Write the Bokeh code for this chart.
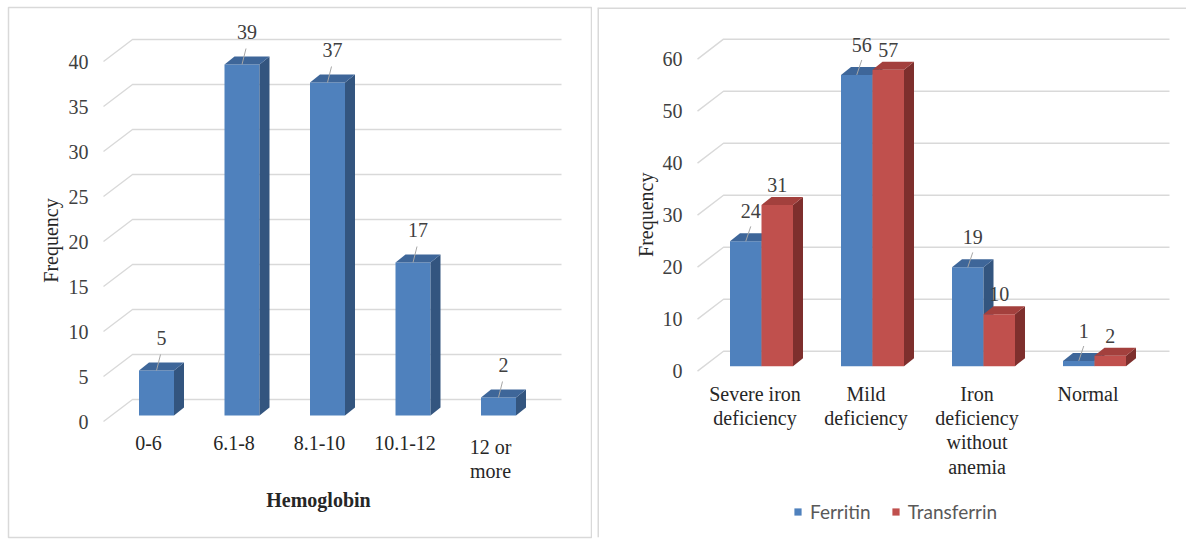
import math

from bokeh.core.properties import value
from bokeh.embed import file_html
from bokeh.layouts import row
from bokeh.models import FixedTicker, Legend, LegendItem, LinearAxis, Range1d
from bokeh.plotting import figure
from bokeh.resources import INLINE

# ---------------------------------------------------------------- data
hb_groups = ["0-6", "6.1-8", "8.1-10", "10.1-12", "12 or\nmore"]
hb_freq = [5, 39, 37, 17, 2]
hb_ticks = [0, 5, 10, 15, 20, 25, 30, 35, 40]

iron_groups = ["Severe iron\ndeficiency", "Mild\ndeficiency",
               "Iron\ndeficiency\nwithout\nanemia", "Normal"]
ferritin = [24, 56, 19, 1]
transferrin = [31, 57, 10, 2]
iron_ticks = [0, 10, 20, 30, 40, 50, 60]

# ---------------------------------------------------------------- style
SERIF = "Liberation Serif"
SANS = "Lato"
FS = "20px"
TXT = "#404040"
GRID = "#d9d9d9"
LEADER = "#a6a6a6"
BLUE = {"front": "#4F81BD", "top": "#3E6699", "side": "#33557F"}
RED = {"front": "#C0504D", "top": "#A3403D", "side": "#7E2F2D"}


class Panel:
    """A figure whose frame is one chart panel, with helpers that turn
    pixel offsets (3-D depth, label gaps) into data offsets."""

    def __init__(self, frame_w, frame_h, borders, cat0_px, step_px, zero_px, unit_px):
        left, top, right, bottom = borders
        self.step_px = step_px
        self.unit_px = unit_px
        self.p = figure(
            width=frame_w + left + right, height=frame_h + top + bottom,
            x_range=Range1d(-cat0_px / step_px, (frame_w - cat0_px) / step_px),
            y_range=Range1d((zero_px - frame_h) / unit_px, zero_px / unit_px),
            x_axis_type=None, y_axis_type=None,
            output_backend="svg", toolbar_location=None, tools="",
            min_border_left=left, min_border_top=top,
            min_border_right=right, min_border_bottom=bottom,
            background_fill_color="white", border_fill_color="white",
        )
        self.p.outline_line_color = None

    def dx(self, px):
        return px / self.step_px

    def dy(self, px):
        return px / self.unit_px

    def walls(self, ticks, front_px, end_px, depth):
        """Gridlines: a diagonal on the side wall and a line on the back wall."""
        ddx, ddy = self.dx(depth[0]), self.dy(depth[1])
        gx = self.dx(front_px)
        xs = [[gx, gx + ddx, self.dx(end_px)] for _ in ticks]
        ys = [[t, t + ddy, t + ddy] for t in ticks]
        self.p.multi_line(xs, ys, line_color=GRID, line_width=1.4)
        axis = LinearAxis(
            ticker=FixedTicker(ticks=ticks), fixed_location=gx,
            axis_line_color=None, major_tick_line_color=None,
            minor_tick_line_color=None, major_tick_in=0, major_tick_out=0,
            major_label_standoff=15,
            major_label_text_font=SERIF, major_label_text_font_size=FS,
            major_label_text_color=TXT,
        )
        self.p.add_layout(axis, "left")

    def bars(self, centers, vals, lift, half_w, side, colors):
        """3-D columns: front face, right side and top face."""
        l = [c - self.dx(half_w) for c in centers]
        r = [c + self.dx(half_w) for c in centers]
        b = [self.dy(lift)] * len(vals)
        t = [v + self.dy(lift) for v in vals]
        sx, sy = self.dx(side[0]), self.dy(side[1])
        front = self.p.quad(left=l, right=r, bottom=b, top=t,
                            fill_color=colors["front"], line_color=None)
        self.p.patches(
            [[ri, ri + sx, ri + sx, ri] for ri in r],
            [[bi, bi + sy, ti + sy, ti] for bi, ti in zip(b, t)],
            fill_color=colors["side"], line_color=None)
        self.p.patches(
            [[li, ri, ri + sx, li + sx] for li, ri in zip(l, r)],
            [[ti, ti, ti + sy, ti + sy] for ti in t],
            fill_color=colors["top"], line_color=None)
        return front, t

    def values(self, centers, tops, vals, gap, shift, leader=None):
        xs = [c + self.dx(shift) for c in centers]
        ys = [t + self.dy(gap) for t in tops]
        if leader:
            self.p.segment(
                x0=centers, y0=tops,
                x1=[c + self.dx(leader[0]) for c in centers],
                y1=[t + self.dy(leader[1]) for t in tops],
                line_color=LEADER, line_width=1)
        self.p.text(xs, ys, text=[str(v) for v in vals],
                    text_font=value(SERIF), text_font_size=FS,
                    text_color=TXT, text_align="center", text_baseline="middle")

    def categories(self, labels, gap):
        self.p.text(list(range(len(labels))), [self.dy(-gap)] * len(labels),
                    text=labels, text_font=value(SERIF), text_font_size=FS,
                    text_color="#262626", text_align="center", text_baseline="top",
                    text_line_height=1.1)

    def y_title(self, x_px, y_px, cat0_px, zero_px):
        self.p.text([self.dx(x_px - cat0_px)], [self.dy(zero_px - y_px)],
                    text=["Frequency"], angle=math.pi / 2,
                    text_font=value(SERIF), text_font_size=FS,
                    text_color="#262626", text_align="center", text_baseline="middle")


# ---------------------------------------------------------------- hemoglobin
L_CAT0, L_ZERO = 140, 414
left = Panel(583, 530, (8, 7, 1, 2), cat0_px=L_CAT0, step_px=85.5,
             zero_px=L_ZERO, unit_px=9.0)
left.p.outline_line_color = GRID
left.p.outline_line_width = 1.5
left.walls(hb_ticks, front_px=95 - L_CAT0, end_px=553 - L_CAT0, depth=(29, 22))
hb_x = [i + left.dx(8) for i in range(len(hb_freq))]
_, hb_tops = left.bars(hb_x, hb_freq, lift=6, half_w=17.5, side=(10, 8), colors=BLUE)
left.values(hb_x, hb_tops, hb_freq, gap=33, shift=5, leader=(4, 16))
left.categories(hb_groups, gap=14)
left.y_title(42, 233, L_CAT0, L_ZERO)
left.p.text([left.dx(310 - L_CAT0)], [left.dy(L_ZERO - 492)], text=["Hemoglobin"],
            text_font=value(SERIF), text_font_size=FS, text_font_style="bold",
            text_color="#262626", text_align="center", text_baseline="middle")

# ---------------------------------------------------------------- iron status
R_CAT0, R_ZERO = 157.5, 365
right = Panel(589, 532, (5, 7, 0, 0), cat0_px=R_CAT0, step_px=111,
              zero_px=R_ZERO, unit_px=5.22)
rp = right.p
# panel border: left and top edges only (the rest lies off the page)
rp.segment(x0=[rp.x_range.start, rp.x_range.start], y0=[rp.y_range.start, rp.y_range.end],
           x1=[rp.x_range.start, rp.x_range.end], y1=[rp.y_range.end, rp.y_range.end],
           line_color=GRID, line_width=3)
right.walls(iron_ticks, front_px=100 - R_CAT0, end_px=572 - R_CAT0, depth=(26, 20))
BW = 31.5
fer_x = [i + right.dx(6.5 - BW / 2) for i in range(len(ferritin))]
tra_x = [i + right.dx(6.5 + BW / 2) for i in range(len(transferrin))]
fer_r, fer_tops = right.bars(fer_x, ferritin, lift=5, half_w=BW / 2, side=(10, 8), colors=BLUE)
tra_r, tra_tops = right.bars(tra_x, transferrin, lift=5, half_w=BW / 2, side=(10, 8), colors=RED)
right.values(fer_x, fer_tops, ferritin, gap=30, shift=5, leader=(5, 15))
right.values(tra_x, tra_tops, transferrin, gap=20, shift=0)
right.categories(iron_groups, gap=12)
right.y_title(48, 208, R_CAT0, R_ZERO)

legend = Legend(
    items=[LegendItem(label="Ferritin", renderers=[fer_r]),
           LegendItem(label="Transferrin", renderers=[tra_r])],
    orientation="horizontal", location=(196, 14),
    glyph_width=9, glyph_height=9, label_standoff=8, spacing=20,
    padding=0, margin=0, border_line_color=None, background_fill_alpha=0,
    label_text_font=SANS, label_text_font_size="19px", label_text_color="#595959",
)
rp.add_layout(legend)

page = row(left.p, rp)
open("out.html", "w").write(file_html(page, INLINE))
